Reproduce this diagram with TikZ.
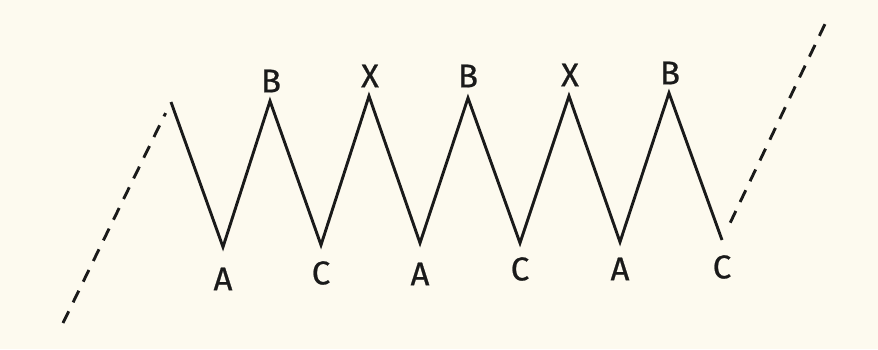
\documentclass[tikz,border=0pt]{standalone}
\usepackage{fontspec}
\setmainfont{Fira Sans}
\newfontfamily\lblfont[FakeBold=0.7]{Fira Sans}
\usetikzlibrary{calc}
\definecolor{paper}{HTML}{FDFAEF}
\definecolor{ink}{HTML}{1A1A1A}
\begin{document}
\begin{tikzpicture}[x=1pt,y=-1pt,
  wave/.style={draw=ink,line width=2.9pt,line join=miter,miter limit=20},
  trend/.style={draw=ink,line width=2.9pt,dash pattern=on 13pt off 10pt},
  lbl/.style={text=ink,font=\lblfont\fontsize{33}{33}\selectfont,inner sep=0pt}]
\fill[paper] (0,0) rectangle (878,349);
\useasboundingbox (0,0) rectangle (878,349);
% vertices
\coordinate (s0) at (63,323);
\coordinate (p0) at (171,102);
\coordinate (v1) at (223,247);
\coordinate (p1) at (270,101);
\coordinate (v2) at (321,245);
\coordinate (p2) at (369,96);
\coordinate (v3) at (420,243);
\coordinate (p3) at (468,98);
\coordinate (v4) at (520,243);
\coordinate (p4) at (569,96);
\coordinate (v5) at (620,242);
\coordinate (p5) at (669,93);
\coordinate (v6) at (722,240);
\coordinate (e0) at (825,24);
% dashed trend lines
\draw[trend] (s0) -- ($(s0)!0.95!(p0)$);
\draw[trend] ($(v6)!0.08!(e0)$) -- (e0);
% zigzag
\draw[wave] (p0) -- (v1) -- (p1) -- (v2) -- (p2) -- (v3) -- (p3) -- (v4) -- (p4) -- (v5) -- (p5) -- (v6);
% labels
\node[lbl] (la1) at (223,279) {A};
\node[lbl] (lc2) at (321,273) {C};
\node[lbl] (la3) at (420,274) {A};
\node[lbl] (lc4) at (520,269) {C};
\node[lbl] (la5) at (620,269) {A};
\node[lbl] (lc6) at (722,267) {C};
\node[lbl] (lb1) at (271,81) {B};
\node[lbl] (lx2) at (370,76) {X};
\node[lbl] (lb3) at (468,76) {B};
\node[lbl] (lx4) at (570,75) {X};
\node[lbl] (lb5) at (670,73) {B};
\end{tikzpicture}
\end{document}
